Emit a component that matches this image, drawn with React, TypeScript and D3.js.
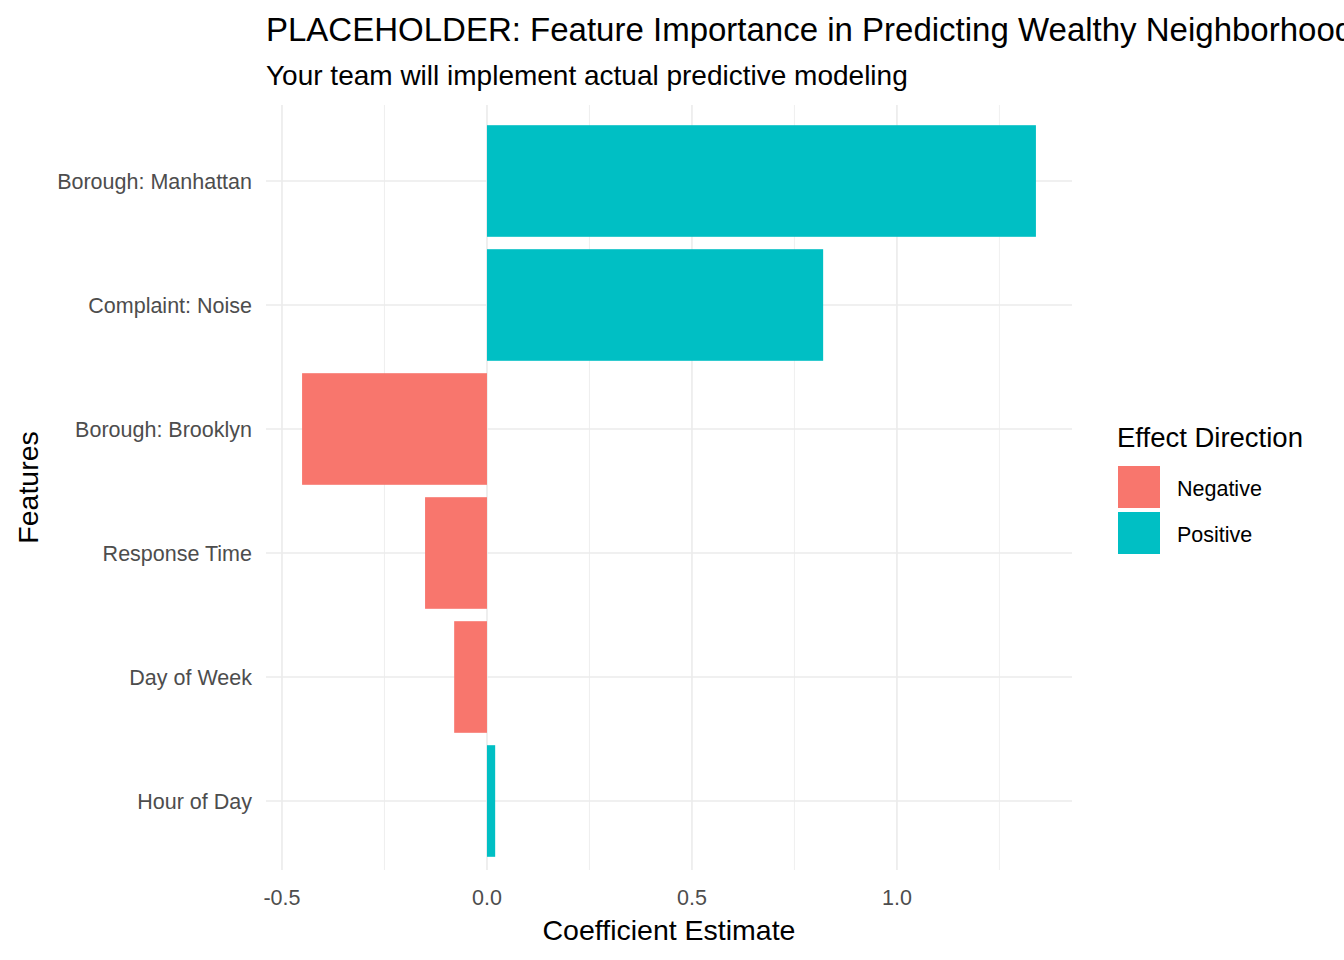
import React, { useEffect, useRef } from 'react';
import * as d3 from 'd3';

const features = ['Borough: Manhattan', 'Complaint: Noise', 'Borough: Brooklyn', 'Response Time', 'Day of Week', 'Hour of Day'];
const estimates = [1.339, 0.82, -0.451, -0.151, -0.08, 0.02];
const xTicks = [-0.5, 0, 0.5, 1.0];
const xMinor = [-0.25, 0.25, 0.75, 1.25];
const directions = ['Negative', 'Positive'];
const dirColors = ['#F8766D', '#00BFC4'];

const App: React.FC = () => {
    const svgRef = useRef<SVGSVGElement>(null);

    useEffect(() => {
        if (!svgRef.current) return;
        const svg = d3.select(svgRef.current);
        svg.selectAll('*').remove();
        const font = 'Liberation Sans, Arial, sans-serif';

        const left = 266, right = 1072, top = 105, bottom = 870;
        const x = d3.scaleLinear().domain([-0.539, 1.427]).range([left, right]);
        const y = d3.scaleBand().domain(features).range([119, 863]).paddingInner(0.1).paddingOuter(0.05);
        const color = d3.scaleOrdinal<string>().domain(directions).range(dirColors);

        const g = svg.append('g');
        // minor grid
        g.selectAll('.minor').data(xMinor).enter().append('line')
            .attr('x1', d => x(d)).attr('x2', d => x(d)).attr('y1', top).attr('y2', bottom)
            .attr('stroke', '#ebebeb').attr('stroke-width', 0.8);
        g.selectAll('.major').data(xTicks).enter().append('line')
            .attr('x1', d => x(d)).attr('x2', d => x(d)).attr('y1', top).attr('y2', bottom)
            .attr('stroke', '#ebebeb').attr('stroke-width', 1.6);
        g.selectAll('.hgrid').data(features).enter().append('line')
            .attr('x1', left).attr('x2', right)
            .attr('y1', d => y(d)! + y.bandwidth() / 2).attr('y2', d => y(d)! + y.bandwidth() / 2)
            .attr('stroke', '#ebebeb').attr('stroke-width', 1.6);

        g.selectAll('.bar').data(estimates).enter().append('rect')
            .attr('x', d => x(Math.min(0, d)))
            .attr('width', d => Math.abs(x(d) - x(0)))
            .attr('y', (d, i) => y(features[i])!)
            .attr('height', y.bandwidth())
            .attr('fill', d => color(d < 0 ? 'Negative' : 'Positive'));

        g.selectAll('.ylab').data(features).enter().append('text')
            .attr('x', 252).attr('y', d => y(d)! + y.bandwidth() / 2).attr('dy', '0.35em')
            .attr('text-anchor', 'end').attr('fill', '#4d4d4d').style('font-size', '21.5px').style('font-family', font)
            .text(d => d);

        g.selectAll('.xlab').data(xTicks).enter().append('text')
            .attr('x', d => x(d)).attr('y', 905).attr('text-anchor', 'middle')
            .attr('fill', '#4d4d4d').style('font-size', '21.5px').style('font-family', font)
            .text(d => d3.format('.1f')(d).replace('−', '-'));

        svg.append('text').attr('x', (left + right) / 2).attr('y', 940).attr('text-anchor', 'middle')
            .style('font-size', '28.5px').style('font-family', font).text('Coefficient Estimate');
        svg.append('text').attr('transform', `translate(38,${(top + bottom) / 2}) rotate(-90)`).attr('text-anchor', 'middle')
            .style('font-size', '28.5px').style('font-family', font).text('Features');

        svg.append('text').attr('x', 266).attr('y', 41)
            .style('font-size', '33px').style('font-family', font)
            .text('PLACEHOLDER: Feature Importance in Predicting Wealthy Neighborhoods');
        svg.append('text').attr('x', 266).attr('y', 85)
            .style('font-size', '28px').style('font-family', font)
            .text('Your team will implement actual predictive modeling');

        const leg = svg.append('g');
        leg.append('text').attr('x', 1117).attr('y', 447)
            .style('font-size', '27.5px').style('font-family', font).text('Effect Direction');
        directions.forEach((dname, i) => {
            leg.append('rect').attr('x', 1118).attr('y', 466 + i * 46).attr('width', 42).attr('height', 42)
                .attr('fill', color(dname));
            leg.append('text').attr('x', 1177).attr('y', 488 + i * 46).attr('dy', '0.35em')
                .style('font-size', '21.5px').style('font-family', font).text(dname);
        });
    }, []);

    return (
        <svg ref={svgRef} width={1344} height={960}
            style={{ position: 'absolute', left: 0, top: 0, background: '#fff' }} />
    );
};

export default App;
